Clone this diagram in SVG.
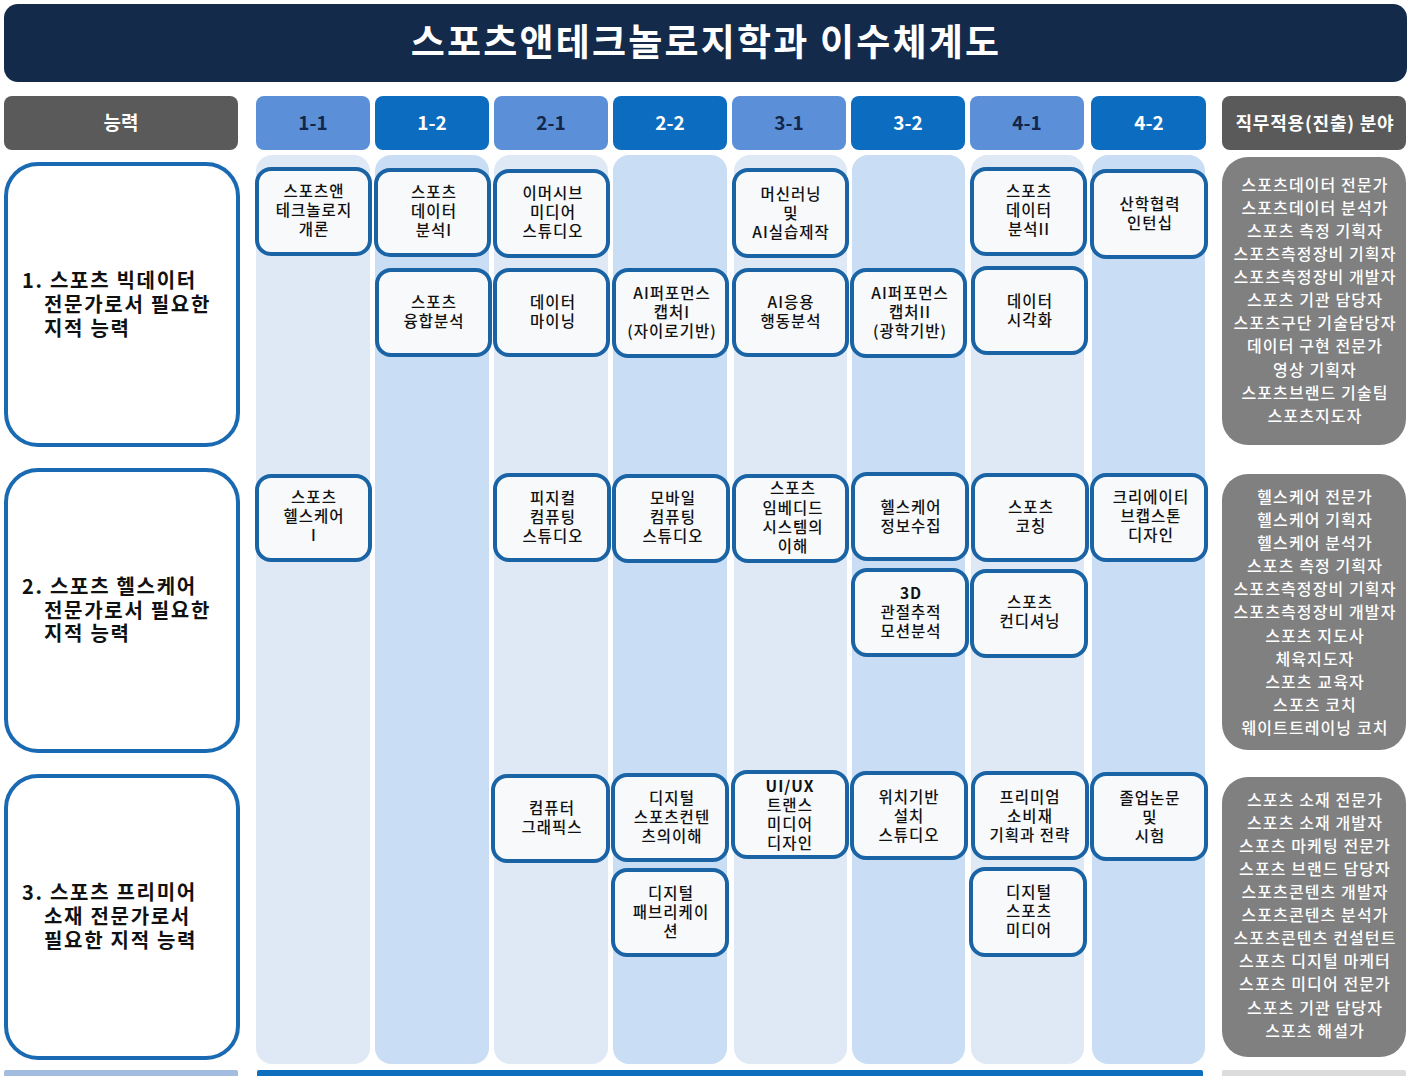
<svg xmlns="http://www.w3.org/2000/svg" width="1411" height="1076" viewBox="0 0 1411 1076">
<style>
text{font-family:"Noto Sans CJK KR","Liberation Sans",sans-serif;text-anchor:middle}
.title{font-size:37px;font-weight:bold;fill:#fff;letter-spacing:2.2px}
.hd{font-size:19px;font-weight:bold}
.hdw{fill:#fff}
.hdd{fill:#13264a}
.c{font-size:15.5px;fill:#111;letter-spacing:1px;font-weight:500}
.comp{font-size:20px;font-weight:bold;fill:#111;text-anchor:start;letter-spacing:1.7px}
.job{font-size:16px;fill:#fff;letter-spacing:1.1px;font-weight:500}
.cbox{fill:#f8f9fb;stroke:#1a64a6;stroke-width:4}
.compbox{fill:#fff;stroke:#1a6ab3;stroke-width:4}
.sl{fill:#dfe9f6}
.sd{fill:#c9ddf4}
.jb{fill:#808080}
</style>
<rect width="1411" height="1076" fill="#fff"/>
<rect x="4" y="4" width="1403" height="78" rx="14" fill="#132a4b"/>
<text class="title" x="706" y="56">스포츠앤테크놀로지학과 이수체계도</text>

<g id="headers">
<rect x="4" y="96" width="234" height="54" rx="8" fill="#5a5a5a"/>
<text class="hd hdw" x="121" y="130">능력</text>
<rect x="256" y="96" width="114" height="54" rx="8" fill="#5b8fd7"/>
<text class="hd hdd" x="313" y="130">1-1</text>
<rect x="375" y="96" width="114" height="54" rx="8" fill="#0c6cc0"/>
<text class="hd hdw" x="432" y="130">1-2</text>
<rect x="494" y="96" width="114" height="54" rx="8" fill="#5b8fd7"/>
<text class="hd hdd" x="551" y="130">2-1</text>
<rect x="613" y="96" width="114" height="54" rx="8" fill="#0c6cc0"/>
<text class="hd hdw" x="670" y="130">2-2</text>
<rect x="732" y="96" width="114" height="54" rx="8" fill="#5b8fd7"/>
<text class="hd hdd" x="789" y="130">3-1</text>
<rect x="851" y="96" width="114" height="54" rx="8" fill="#0c6cc0"/>
<text class="hd hdw" x="908" y="130">3-2</text>
<rect x="970" y="96" width="114" height="54" rx="8" fill="#5b8fd7"/>
<text class="hd hdd" x="1027" y="130">4-1</text>
<rect x="1091" y="96" width="115" height="54" rx="8" fill="#0c6cc0"/>
<text class="hd hdw" x="1149" y="130">4-2</text>
<rect x="1222" y="96" width="184" height="54" rx="8" fill="#5a5a5a"/>
<text class="hd hdw" x="1315" y="130" style="font-size:18px;letter-spacing:0.8px">직무적용(진출) 분야</text>
</g>

<g id="strips">
<rect class="sl" x="256" y="155" width="114" height="909" rx="16"/>
<rect class="sd" x="375" y="155" width="114" height="909" rx="16"/>
<rect class="sl" x="494" y="155" width="114" height="909" rx="16"/>
<rect class="sd" x="613" y="155" width="114" height="909" rx="16"/>
<rect class="sl" x="734" y="155" width="113" height="909" rx="16"/>
<rect class="sd" x="852" y="155" width="113" height="909" rx="16"/>
<rect class="sl" x="971" y="155" width="113" height="909" rx="16"/>
<rect class="sd" x="1092" y="155" width="113" height="909" rx="16"/>
</g>

<g id="bottom">
<rect x="4" y="1070" width="234" height="8" rx="2" fill="#a3bde0"/>
<rect x="257" y="1070" width="946" height="8" rx="2" fill="#0f6fbf"/>
<rect x="1222" y="1070" width="184" height="8" rx="2" fill="#dcdcdc"/>
</g>

<g id="competency1">
<rect class="compbox" x="6" y="164" width="232" height="281" rx="32"/>
<text class="comp" x="22" y="288">1. 스포츠 빅데이터</text>
<text class="comp" x="44" y="312">전문가로서 필요한</text>
<text class="comp" x="44" y="336">지적 능력</text>
</g>
<g id="competency2">
<rect class="compbox" x="6" y="470" width="232" height="281" rx="32"/>
<text class="comp" x="22" y="594">2. 스포츠 헬스케어</text>
<text class="comp" x="44" y="618">전문가로서 필요한</text>
<text class="comp" x="44" y="641">지적 능력</text>
</g>
<g id="competency3">
<rect class="compbox" x="6" y="776" width="232" height="282" rx="32"/>
<text class="comp" x="22" y="900">3. 스포츠 프리미어</text>
<text class="comp" x="44" y="924">소재 전문가로서</text>
<text class="comp" x="44" y="948">필요한 지적 능력</text>
</g>

<g id="c-1-1a"><rect class="cbox" x="257" y="169" width="113" height="85" rx="14"/>
<text class="c" x="314" y="197">스포츠앤</text><text class="c" x="314" y="216">테크놀로지</text><text class="c" x="314" y="235">개론</text></g>
<g id="c-1-2a"><rect class="cbox" x="376" y="170" width="113" height="85" rx="14"/>
<text class="c" x="434" y="198">스포츠</text><text class="c" x="434" y="217">데이터</text><text class="c" x="434" y="236">분석I</text></g>
<g id="c-2-1a"><rect class="cbox" x="495" y="171" width="113" height="85" rx="14"/>
<text class="c" x="553" y="199">이머시브</text><text class="c" x="553" y="218">미디어</text><text class="c" x="553" y="237">스튜디오</text></g>
<g id="c-3-1a"><rect class="cbox" x="734" y="170" width="113" height="86" rx="14"/>
<text class="c" x="791" y="200">머신러닝</text><text class="c" x="791" y="219">및</text><text class="c" x="791" y="238">AI실습제작</text></g>
<g id="c-4-1a"><rect class="cbox" x="972" y="169" width="113" height="85" rx="14"/>
<text class="c" x="1029" y="197">스포츠</text><text class="c" x="1029" y="216">데이터</text><text class="c" x="1029" y="235">분석II</text></g>
<g id="c-4-2a"><rect class="cbox" x="1092" y="171" width="114" height="86" rx="14"/>
<text class="c" x="1150" y="210">산학협력</text><text class="c" x="1150" y="229">인턴십</text></g>

<g id="c-1-2b"><rect class="cbox" x="377" y="270" width="113" height="85" rx="14"/>
<text class="c" x="434" y="308">스포츠</text><text class="c" x="434" y="327">융합분석</text></g>
<g id="c-2-1b"><rect class="cbox" x="495" y="270" width="113" height="85" rx="14"/>
<text class="c" x="553" y="308">데이터</text><text class="c" x="553" y="327">마이닝</text></g>
<g id="c-2-2b"><rect class="cbox" x="614" y="270" width="113" height="86" rx="14"/>
<text class="c" x="672" y="299">AI퍼포먼스</text><text class="c" x="672" y="318">캡처I</text><text class="c" x="672" y="337">(자이로기반)</text></g>
<g id="c-3-1b"><rect class="cbox" x="734" y="270" width="113" height="85" rx="14"/>
<text class="c" x="791" y="308">AI응용</text><text class="c" x="791" y="327">행동분석</text></g>
<g id="c-3-2b"><rect class="cbox" x="852" y="270" width="113" height="86" rx="14"/>
<text class="c" x="910" y="299">AI퍼포먼스</text><text class="c" x="910" y="318">캡처II</text><text class="c" x="910" y="337">(광학기반)</text></g>
<g id="c-4-1b"><rect class="cbox" x="973" y="268" width="113" height="85" rx="14"/>
<text class="c" x="1030" y="307">데이터</text><text class="c" x="1030" y="326">시각화</text></g>

<g id="c-1-1c"><rect class="cbox" x="257" y="476" width="113" height="84" rx="14"/>
<text class="c" x="314" y="503">스포츠</text><text class="c" x="314" y="522">헬스케어</text><text class="c" x="314" y="541">I</text></g>
<g id="c-2-1c"><rect class="cbox" x="495" y="475" width="114" height="85" rx="14"/>
<text class="c" x="553" y="504">피지컬</text><text class="c" x="553" y="523">컴퓨팅</text><text class="c" x="553" y="542">스튜디오</text></g>
<g id="c-2-2c"><rect class="cbox" x="614" y="476" width="114" height="85" rx="14"/>
<text class="c" x="673" y="504">모바일</text><text class="c" x="673" y="523">컴퓨팅</text><text class="c" x="673" y="542">스튜디오</text></g>
<g id="c-3-1c"><rect class="cbox" x="734" y="476" width="113" height="85" rx="14"/>
<text class="c" x="793" y="494">스포츠</text><text class="c" x="793" y="514">임베디드</text><text class="c" x="793" y="533">시스템의</text><text class="c" x="793" y="552">이해</text></g>
<g id="c-3-2c"><rect class="cbox" x="853" y="474" width="114" height="85" rx="14"/>
<text class="c" x="911" y="513">헬스케어</text><text class="c" x="911" y="532">정보수집</text></g>
<g id="c-4-1c"><rect class="cbox" x="973" y="475" width="114" height="85" rx="14"/>
<text class="c" x="1031" y="513">스포츠</text><text class="c" x="1031" y="532">코칭</text></g>
<g id="c-4-2c"><rect class="cbox" x="1092" y="475" width="114" height="85" rx="14"/>
<text class="c" x="1151" y="503">크리에이티</text><text class="c" x="1151" y="522">브캡스톤</text><text class="c" x="1151" y="541">디자인</text></g>

<g id="c-3-2d"><rect class="cbox" x="853" y="570" width="114" height="85" rx="14"/>
<text class="c" x="911" y="599" style="font-weight:bold">3D</text><text class="c" x="911" y="618">관절추적</text><text class="c" x="911" y="637">모션분석</text></g>
<g id="c-4-1d"><rect class="cbox" x="972" y="571" width="114" height="85" rx="14"/>
<text class="c" x="1030" y="608">스포츠</text><text class="c" x="1030" y="627">컨디셔닝</text></g>

<g id="c-2-1e"><rect class="cbox" x="493" y="776" width="115" height="85" rx="14"/>
<text class="c" x="552" y="814">컴퓨터</text><text class="c" x="552" y="833">그래픽스</text></g>
<g id="c-2-2e"><rect class="cbox" x="613" y="775" width="114" height="85" rx="14"/>
<text class="c" x="672" y="804">디지털</text><text class="c" x="672" y="823">스포츠컨텐</text><text class="c" x="672" y="842">츠의이해</text></g>
<g id="c-3-1e"><rect class="cbox" x="733" y="772" width="114" height="85" rx="14"/>
<text class="c" x="790" y="792" style="font-weight:bold">UI/UX</text><text class="c" x="790" y="811">트랜스</text><text class="c" x="790" y="830">미디어</text><text class="c" x="790" y="849">디자인</text></g>
<g id="c-3-2e"><rect class="cbox" x="852" y="773" width="114" height="85" rx="14"/>
<text class="c" x="909" y="803">위치기반</text><text class="c" x="909" y="822">설치</text><text class="c" x="909" y="841">스튜디오</text></g>
<g id="c-4-1e"><rect class="cbox" x="973" y="773" width="114" height="85" rx="14"/>
<text class="c" x="1030" y="803">프리미엄</text><text class="c" x="1030" y="822">소비재</text><text class="c" x="1030" y="841">기획과 전략</text></g>
<g id="c-4-2e"><rect class="cbox" x="1092" y="774" width="114" height="85" rx="14"/>
<text class="c" x="1150" y="804">졸업논문</text><text class="c" x="1150" y="823">및</text><text class="c" x="1150" y="842">시험</text></g>

<g id="c-2-2f"><rect class="cbox" x="613" y="870" width="114" height="85" rx="14"/>
<text class="c" x="671" y="899">디지털</text><text class="c" x="671" y="918">패브리케이</text><text class="c" x="671" y="937">션</text></g>
<g id="c-4-1f"><rect class="cbox" x="971" y="869" width="114" height="86" rx="14"/>
<text class="c" x="1029" y="898">디지털</text><text class="c" x="1029" y="917">스포츠</text><text class="c" x="1029" y="936">미디어</text></g>

<g id="jobs1">
<rect class="jb" x="1222" y="157" width="184" height="288" rx="26"/>
<text class="job" x="1315" y="191">스포츠데이터 전문가</text>
<text class="job" x="1315" y="214">스포츠데이터 분석가</text>
<text class="job" x="1315" y="237">스포츠 측정 기획자</text>
<text class="job" x="1315" y="260">스포츠측정장비 기획자</text>
<text class="job" x="1315" y="283">스포츠측정장비 개발자</text>
<text class="job" x="1315" y="306">스포츠 기관 담당자</text>
<text class="job" x="1315" y="329">스포츠구단 기술담당자</text>
<text class="job" x="1315" y="352">데이터 구현 전문가</text>
<text class="job" x="1315" y="376">영상 기획자</text>
<text class="job" x="1315" y="399">스포츠브랜드 기술팀</text>
<text class="job" x="1315" y="422">스포츠지도자</text>
</g>
<g id="jobs2">
<rect class="jb" x="1222" y="474" width="184" height="276" rx="26"/>
<text class="job" x="1315" y="503">헬스케어 전문가</text>
<text class="job" x="1315" y="526">헬스케어 기획자</text>
<text class="job" x="1315" y="549">헬스케어 분석가</text>
<text class="job" x="1315" y="572">스포츠 측정 기획자</text>
<text class="job" x="1315" y="595">스포츠측정장비 기획자</text>
<text class="job" x="1315" y="618">스포츠측정장비 개발자</text>
<text class="job" x="1315" y="642">스포츠 지도사</text>
<text class="job" x="1315" y="665">체육지도자</text>
<text class="job" x="1315" y="688">스포츠 교육자</text>
<text class="job" x="1315" y="711">스포츠 코치</text>
<text class="job" x="1315" y="734">웨이트트레이닝 코치</text>
</g>
<g id="jobs3">
<rect class="jb" x="1222" y="777" width="184" height="280" rx="26"/>
<text class="job" x="1315" y="806">스포츠 소재 전문가</text>
<text class="job" x="1315" y="829">스포츠 소재 개발자</text>
<text class="job" x="1315" y="852">스포츠 마케팅 전문가</text>
<text class="job" x="1315" y="875">스포츠 브랜드 담당자</text>
<text class="job" x="1315" y="898">스포츠콘텐츠 개발자</text>
<text class="job" x="1315" y="921">스포츠콘텐츠 분석가</text>
<text class="job" x="1315" y="944">스포츠콘텐츠 컨설턴트</text>
<text class="job" x="1315" y="967">스포츠 디지털 마케터</text>
<text class="job" x="1315" y="990">스포츠 미디어 전문가</text>
<text class="job" x="1315" y="1014">스포츠 기관 담당자</text>
<text class="job" x="1315" y="1037">스포츠 해설가</text>
</g>
</svg>
